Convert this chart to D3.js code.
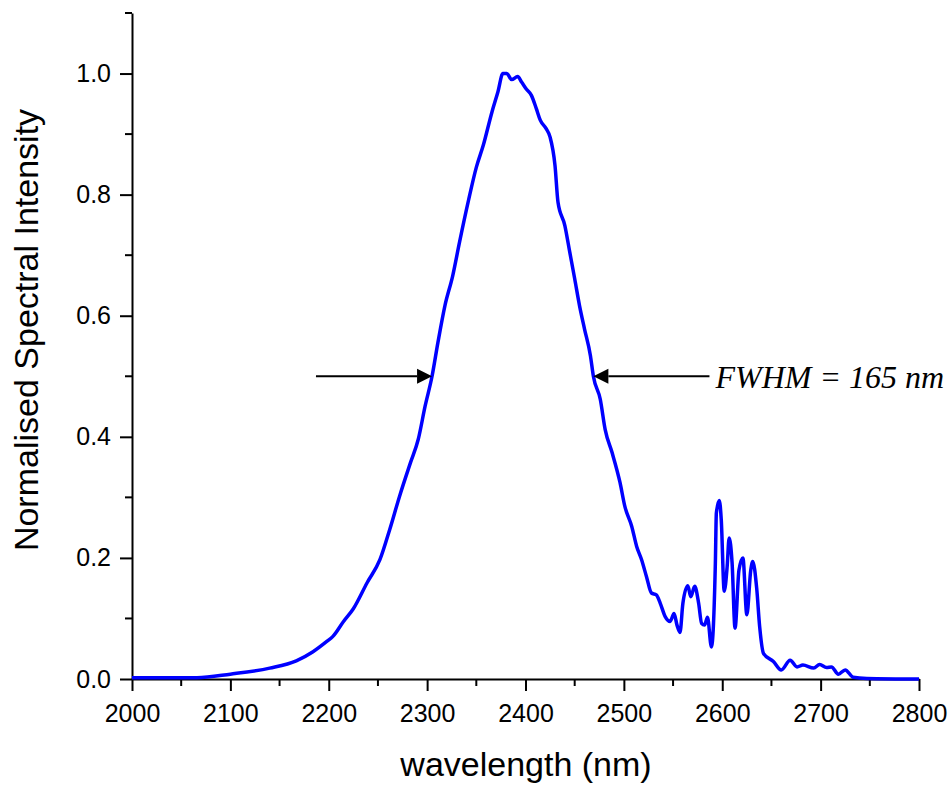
<!DOCTYPE html>
<html><head><meta charset="utf-8">
<script src="https://cdn.jsdelivr.net/npm/d3@7"></script>
<style>body{margin:0;background:#fff}svg{display:block}</style>
</head><body>
<svg id="c" width="952" height="786"></svg>
<script>
const wavelength = [2000,2066,2100,2140,2167,2184,2198,2204,2215,2225,2239,2252,2262,2272,2283,2291,2298,2305,2311,2318,2326,2333,2342,2350,2357,2366,2372,2377,2381,2386,2392,2396,2401,2406,2411,2415,2421,2425,2430,2433,2440,2445,2450,2455,2460,2466,2469,2476,2481,2488,2496,2501,2508,2513,2518,2523,2528,2533,2537,2542,2547,2551,2554,2557,2560,2565,2568,2572,2576,2579,2582,2585,2589,2593,2594,2597,2599,2602,2605,2607,2610,2613,2617,2621,2625,2629,2631,2635,2638,2642,2652,2660,2669,2676,2682,2693,2699,2706,2711,2718,2725,2733,2747,2800];
const intensity  = [0.002,0.002,0.008,0.018,0.030,0.045,0.062,0.070,0.095,0.116,0.159,0.197,0.247,0.302,0.357,0.396,0.451,0.500,0.556,0.616,0.666,0.722,0.790,0.845,0.881,0.937,0.970,1.000,1.000,0.990,0.995,0.986,0.974,0.964,0.942,0.923,0.909,0.895,0.848,0.788,0.749,0.705,0.661,0.616,0.578,0.534,0.500,0.462,0.412,0.374,0.325,0.285,0.252,0.219,0.197,0.169,0.142,0.139,0.125,0.103,0.095,0.108,0.089,0.077,0.125,0.154,0.136,0.153,0.125,0.092,0.089,0.102,0.053,0.192,0.274,0.295,0.263,0.145,0.186,0.233,0.192,0.084,0.180,0.200,0.106,0.180,0.194,0.150,0.087,0.042,0.029,0.015,0.031,0.020,0.023,0.018,0.024,0.019,0.020,0.008,0.015,0.003,0.001,0.000];
const xTicks = [2000,2100,2200,2300,2400,2500,2600,2700,2800];
const yTicks = [0.0,0.2,0.4,0.6,0.8,1.0];
const fwhmEdges = [2305, 2469];
const fwhmTails = [2187, 2587];
const fwhmLevel = 0.5;
const fwhmLabel = "FWHM = 165 nm";

const svg = d3.select("#c");
const L=132, R=919, T=13, B=679;
const x = d3.scaleLinear().domain([2000,2800]).range([L,R]);
const y = d3.scaleLinear().domain([0,1.1]).range([B,T]);

const g = svg.append("g");
const xMinor = d3.range(2050,2800,100);
const yMinor = d3.range(0.1,1.11,0.2);
g.selectAll(".xm").data(xMinor).join("line")
  .attr("x1",d=>x(d)).attr("x2",d=>x(d)).attr("y1",B).attr("y2",B+7)
  .attr("stroke","#000").attr("stroke-width",2);
g.selectAll(".ym").data(yMinor).join("line")
  .attr("y1",d=>y(d)).attr("y2",d=>y(d)).attr("x1",L).attr("x2",L-7)
  .attr("stroke","#000").attr("stroke-width",2);

const xAxis = svg.append("g").attr("transform",`translate(0,${B})`)
  .call(d3.axisBottom(x).tickValues(xTicks).tickFormat(d3.format("d")).tickSizeInner(12).tickSizeOuter(0).tickPadding(13));
const yAxis = svg.append("g").attr("transform",`translate(${L},0)`)
  .call(d3.axisLeft(y).tickValues(yTicks).tickFormat(d3.format(".1f")).tickSizeInner(12).tickSizeOuter(0).tickPadding(9));
[xAxis,yAxis].forEach(a=>{
  a.selectAll("path").attr("stroke","#000").attr("stroke-width",2);
  a.selectAll("line").attr("stroke","#000").attr("stroke-width",2);
  a.selectAll("text").attr("fill","#000").style("font-family","Liberation Sans, Arial, sans-serif").style("font-size","25px");
});

svg.append("path")
  .datum(wavelength.map((w,i)=>[w,intensity[i]]))
  .attr("fill","none").attr("stroke","#0000ff").attr("stroke-width",3.5).attr("stroke-linejoin","round")
  .attr("d", d3.line().x(d=>x(d[0])).y(d=>y(d[1])).curve(d3.curveMonotoneX));

const ay = y(fwhmLevel);
function arrow(tail, tip){
  const dir = Math.sign(tip - tail);
  const xt = x(tip), xb = xt - dir*15;
  svg.append("line").attr("x1",x(tail)).attr("x2",xb).attr("y1",ay).attr("y2",ay)
    .attr("stroke","#000").attr("stroke-width",2);
  svg.append("path").attr("d",`M${xt},${ay} L${xb},${ay-7.5} L${xb},${ay+7.5} Z`).attr("fill","#000");
}
arrow(fwhmTails[0], fwhmEdges[0]);
arrow(fwhmTails[1], fwhmEdges[1]);
svg.append("text").attr("x",x(fwhmTails[1])+6).attr("y",ay+12)
  .style("font-family","Liberation Serif, Times New Roman, serif").style("font-style","italic").style("font-size","32px")
  .text(fwhmLabel);

svg.append("text").attr("x",526).attr("y",776).attr("text-anchor","middle")
  .style("font-family","Liberation Sans, Arial, sans-serif").style("font-size","34px").text("wavelength (nm)");
svg.append("text").attr("transform",`translate(38,330) rotate(-90)`).attr("text-anchor","middle")
  .style("font-family","Liberation Sans, Arial, sans-serif").style("font-size","34px").text("Normalised Spectral Intensity");
</script>
</body></html>
